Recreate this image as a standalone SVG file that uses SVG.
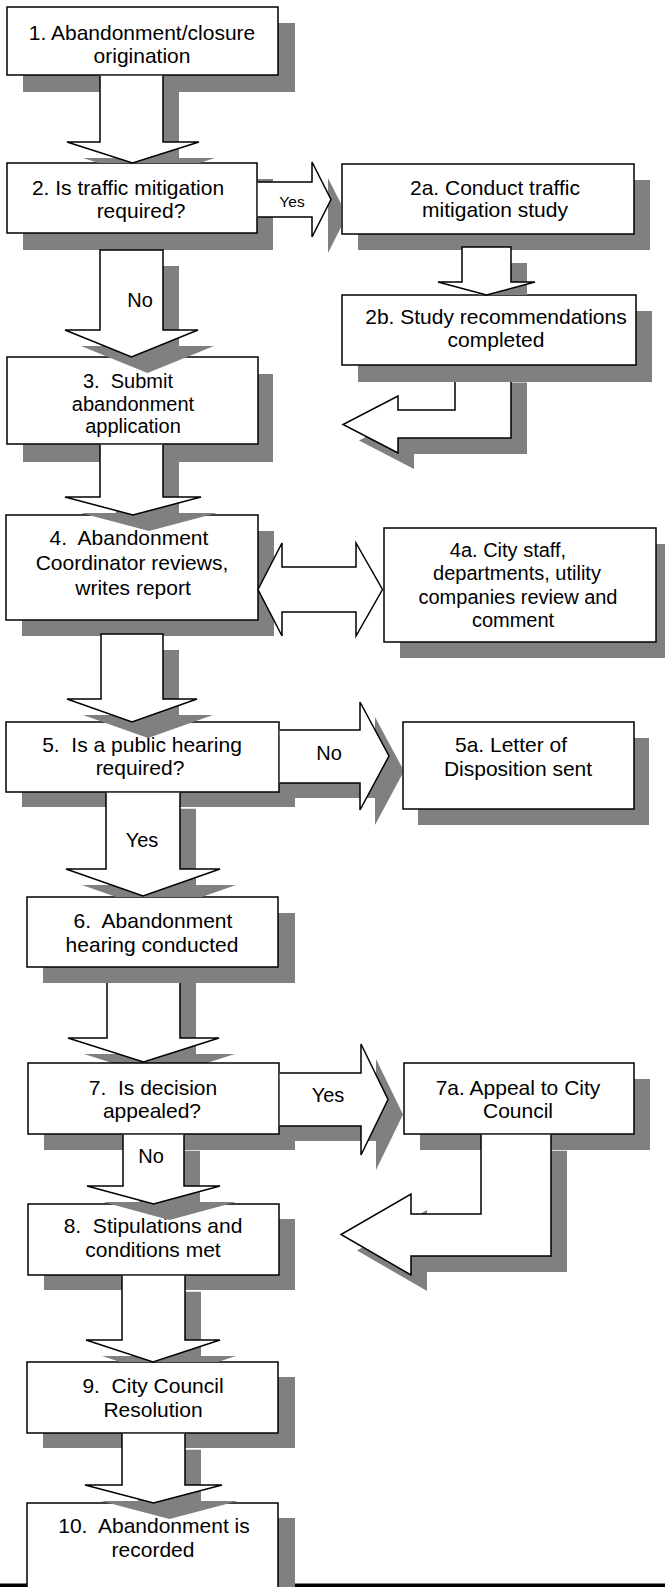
<svg xmlns="http://www.w3.org/2000/svg" xmlns:xlink="http://www.w3.org/1999/xlink" width="665" height="1587" viewBox="0 0 665 1587">
<style>
.sh{fill:#808080;stroke:none}
.bx{fill:#fff;stroke:#000;stroke-width:1.5}
.ar{fill:#fff;stroke:#000;stroke-width:1.5;stroke-linejoin:miter}
text{font-family:"Liberation Sans",Arial,sans-serif;font-size:21px;text-anchor:middle;fill:#000}
.s20{font-size:20px}
.lb{font-size:20px}
.sm{font-size:15.5px}
</style>
<defs>
<clipPath id="c12" clipPathUnits="userSpaceOnUse"><rect x="0" y="0" width="665" height="163"/></clipPath>
<clipPath id="c56" clipPathUnits="userSpaceOnUse"><rect x="0" y="0" width="665" height="897"/></clipPath>
<clipPath id="c67" clipPathUnits="userSpaceOnUse"><rect x="0" y="0" width="665" height="1063"/></clipPath>
<clipPath id="c89" clipPathUnits="userSpaceOnUse"><rect x="0" y="0" width="665" height="1362"/></clipPath>
<clipPath id="c2b" clipPathUnits="userSpaceOnUse"><rect x="0" y="0" width="665" height="295"/></clipPath>
<clipPath id="cx2" clipPathUnits="userSpaceOnUse"><rect x="0" y="0" width="341" height="1587"/></clipPath>
<clipPath id="cx5" clipPathUnits="userSpaceOnUse"><rect x="0" y="0" width="402" height="1587"/></clipPath>
<path id="a12" d="M100,75.75 V142 H67 L132.5,163 L199,142 H163 V75.75"/>
<path id="a23" d="M100,250 V330 H65 L131.5,357 L198,330 H163 V250 Z"/>
<path id="a34" d="M100,444.75 V497 H65 L133,515 L201,497 H163 V444.75"/>
<path id="a45" d="M101,634 V699 H67 L132,722 L197,699 H163 V634 Z"/>
<path id="a56" d="M106,792.75 V869 H66 L143,896 L220,869 H180 V792.75"/>
<path id="a67s" d="M107,967 V1038 H68 L143.5,1062 L219,1038 H180 V967"/>
<path id="a78" d="M123,1134.75 V1186 H87 L153.5,1204 L220,1186 H184 V1134.75"/>
<path id="a89" d="M122,1275.75 V1340 H86 L153,1362 L220,1340 H185 V1275.75"/>
<path id="a910" d="M122,1433.75 V1485 H85 L153.5,1503 L222,1485 H185 V1433.75"/>
<path id="a2ab" d="M462,247 V282 H438 L486.5,295 L535,282 H511 V247 Z"/>
<path id="an5" d="M279.75,730 H360 V702 L389,756 L360,810 V783 H279.75"/>
<path id="ay7" d="M279.75,1073 H361 V1044 L388,1099.5 L361,1155 V1126 H279.75"/>
<path id="ar78" d="M481,1134.75 V1214 H411 V1194 L341,1234.5 L411,1275 V1256 H551 V1134.75"/>
</defs>
<rect x="0" y="1583.5" width="665" height="3.5" fill="#000"/>
<g id="nodes">
<g id="n1"><rect class="sh" x="23" y="23" width="272" height="69"/><rect class="bx" x="7" y="7" width="271" height="68"/>
<text x="142" y="40">1. Abandonment/closure</text><text x="142" y="63">origination</text></g>
<g id="n2"><rect class="sh" x="23" y="179" width="250" height="71"/><rect class="bx" x="7" y="163" width="250" height="70"/>
<text x="128" y="195">2. Is traffic mitigation</text><text x="141" y="218">required?</text></g>
<g id="n2a"><rect class="sh" x="358" y="180" width="292" height="70"/><rect class="bx" x="342" y="164" width="292" height="70"/>
<text x="495" y="195">2a. Conduct traffic</text><text x="495" y="217">mitigation study</text></g>
<g id="n2b"><path class="sh" d="M471,382.5 V426 H414 V412 L359,440.5 L414,469 V454 H527 V382.5 Z"/>
<path class="ar" d="M455,382 V410 H398 V396 L343,424.5 L398,453 V438 H511 V382"/>
<rect class="sh" x="358" y="311" width="294" height="71"/><rect class="bx" x="342" y="295" width="294" height="70"/>
<text x="496" y="324">2b. Study recommendations</text><text x="496" y="347">completed</text></g>
<g id="n3"><rect class="sh" x="23" y="374" width="250" height="88"/><rect class="bx" x="7" y="357" width="251" height="87"/>
<text class="s20" x="128" y="388" xml:space="preserve">3.  Submit</text><text class="s20" x="133" y="410.5">abandonment</text><text class="s20" x="133" y="433">application</text></g>
<g id="n4"><rect class="sh" x="22" y="531" width="252" height="105"/><rect class="bx" x="6" y="515" width="252" height="105"/>
<text x="129" y="545" xml:space="preserve">4.  Abandonment</text><text x="132" y="570">Coordinator reviews,</text><text x="133" y="595">writes report</text></g>
<g id="n4a"><rect class="sh" x="400" y="544" width="272" height="114"/><rect class="bx" x="384" y="528" width="272" height="114"/>
<text class="s20" x="508" y="557">4a. City staff,</text><text class="s20" x="517" y="580">departments, utility</text><text class="s20" x="518" y="604">companies review and</text><text class="s20" x="513" y="627">comment</text></g>
<g id="n5"><rect class="sh" x="22" y="737" width="273" height="70"/><rect class="bx" x="6" y="722" width="273" height="70"/>
<text x="142" y="752" xml:space="preserve">5.  Is a public hearing</text><text x="140" y="775">required?</text></g>
<g id="n5a"><rect class="sh" x="418" y="738" width="231" height="87"/><rect class="bx" x="403" y="722" width="231" height="87"/>
<text x="511" y="752">5a. Letter of</text><text x="518" y="776">Disposition sent</text></g>
<g id="n6"><g clip-path="url(#c67)"><use xlink:href="#a67s" class="sh" transform="translate(16,16)"/></g>
<path class="ar" d="M107,983 V1038 H68 L143.5,1062 L219,1038 H180 V983"/>
<rect class="sh" x="43" y="913" width="252" height="70"/><rect class="bx" x="27" y="897" width="251" height="70"/>
<text x="153" y="928" xml:space="preserve">6.  Abandonment</text><text x="152" y="952">hearing conducted</text></g>
<g id="n7"><rect class="sh" x="44" y="1079" width="251" height="71"/><rect class="bx" x="28" y="1063" width="251" height="71"/>
<text x="153" y="1095" xml:space="preserve">7.  Is decision</text><text x="152" y="1118">appealed?</text></g>
<g id="n7a"><rect class="sh" x="420" y="1079" width="230" height="71"/><rect class="bx" x="404" y="1063" width="230" height="71"/>
<text x="518" y="1095">7a. Appeal to City</text><text x="518" y="1118">Council</text></g>
<g id="n8"><rect class="sh" x="44" y="1219" width="251" height="71"/><rect class="bx" x="28" y="1204" width="251" height="71"/>
<text x="153" y="1233" xml:space="preserve">8.  Stipulations and</text><text x="153" y="1257">conditions met</text></g>
<g id="n9"><rect class="sh" x="43" y="1377" width="252" height="71"/><rect class="bx" x="27" y="1362" width="251" height="71"/>
<text x="153" y="1393" xml:space="preserve">9.  City Council</text><text x="153" y="1417">Resolution</text></g>
<g id="n10"><rect class="sh" x="43" y="1518" width="252" height="120"/><rect class="bx" x="27" y="1503" width="251" height="120"/>
<text x="154" y="1533" xml:space="preserve">10.  Abandonment is</text><text x="153" y="1557">recorded</text></g>
</g>
<g id="connectors">
<g clip-path="url(#c12)"><use xlink:href="#a12" class="sh" transform="translate(16,16)"/></g><use xlink:href="#a12" class="ar"/>
<use xlink:href="#a23" class="sh" transform="translate(16,16)"/><use xlink:href="#a23" class="ar"/>
<text class="lb" x="140" y="307">No</text>
<use xlink:href="#a34" class="sh" transform="translate(16,16)"/><use xlink:href="#a34" class="ar"/>
<use xlink:href="#a45" class="sh" transform="translate(16,16)"/><use xlink:href="#a45" class="ar"/>
<g clip-path="url(#c56)"><use xlink:href="#a56" class="sh" transform="translate(16,16)"/></g><use xlink:href="#a56" class="ar"/>
<text class="lb" x="142" y="847">Yes</text>
<use xlink:href="#a78" class="sh" transform="translate(16,16)"/><use xlink:href="#a78" class="ar"/>
<text class="lb" x="151" y="1163">No</text>
<g clip-path="url(#c89)"><use xlink:href="#a89" class="sh" transform="translate(16,16)"/></g><use xlink:href="#a89" class="ar"/>
<use xlink:href="#a910" class="sh" transform="translate(16,16)"/><use xlink:href="#a910" class="ar"/>
<path class="sh" clip-path="url(#cx2)" d="M328,178 L347,215.5 L328,253 Z"/>
<path class="ar" d="M257.75,182 H312 V162 L331,199.5 L312,237 V217 H257.75"/>
<text class="sm" x="292" y="207">Yes</text>
<g clip-path="url(#c2b)"><use xlink:href="#a2ab" class="sh" transform="translate(16,16)"/></g><use xlink:href="#a2ab" class="ar"/>
<path class="ar" d="M258,589.5 L282,543 V567 H356 V543 L382.5,589.5 L356,636 V612 H282 V636 Z"/>
<g clip-path="url(#cx5)"><use xlink:href="#an5" class="sh" transform="translate(15,15)"/></g><use xlink:href="#an5" class="ar"/>
<text class="lb" x="329" y="760">No</text>
<use xlink:href="#ay7" class="sh" transform="translate(15,15)"/><use xlink:href="#ay7" class="ar"/>
<text class="lb" x="328" y="1102">Yes</text>
<use xlink:href="#ar78" class="sh" transform="translate(16,16)"/><use xlink:href="#ar78" class="ar"/>
</g>
</svg>
